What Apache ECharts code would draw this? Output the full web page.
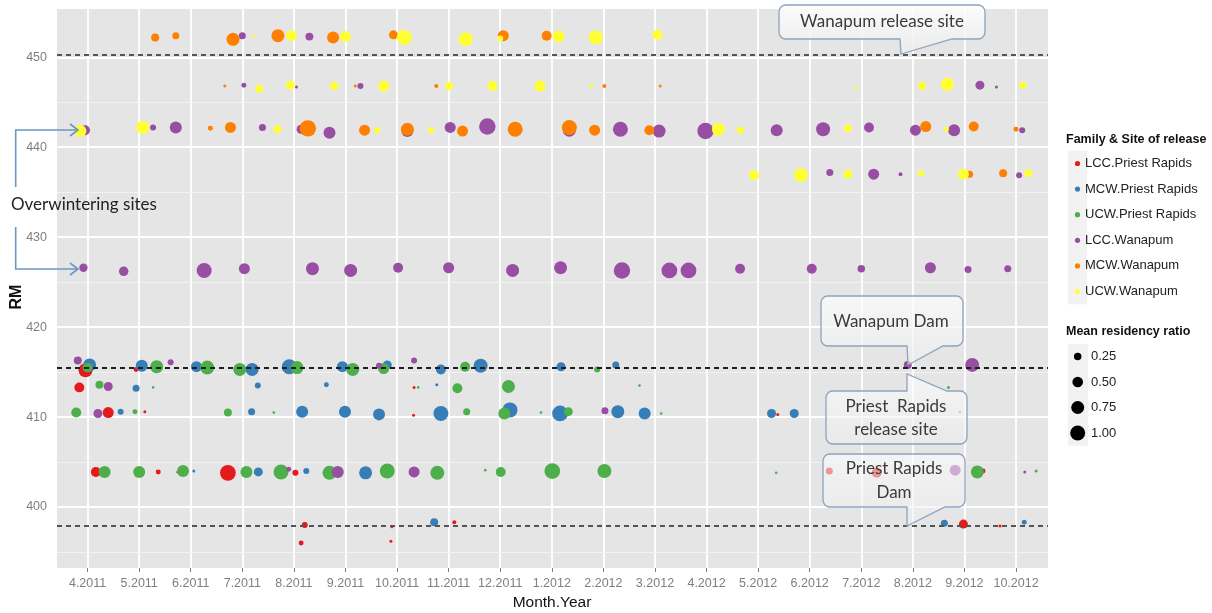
<!DOCTYPE html>
<html>
<head>
<meta charset="utf-8">
<script src="https://cdn.jsdelivr.net/npm/echarts@6/dist/echarts.min.js"></script>
<style>
  html, body { margin: 0; padding: 0; background: #fff; }
  #chart { width: 1212px; height: 613px; }
</style>
</head>
<body>
<div id="chart"></div>
<script>
// Month ticks: value 0 = April 2011, one unit per month
const monthLabels = ['4.2011','5.2011','6.2011','7.2011','8.2011','9.2011','10.2011','11.2011','12.2011',
  '1.2012','2.2012','3.2012','4.2012','5.2012','6.2012','7.2012','8.2012','9.2012','10.2012'];
const rmTicks = [400, 410, 420, 430, 440, 450];
const rmMinor = [395, 405, 415, 425, 435, 445];
// River miles of the release sites and dam
const siteLines = [450.3, 415.5, 397.9];
const sizeLegend = [0.25, 0.50, 0.75, 1.00];

// Each detection: [month, river mile, mean residency ratio]
const lccPriest = [
  [-0.04,415.2,0.87],[0.94,415.3,0.11],
  [-0.16,413.3,0.44],[6.33,413.3,0.04],
  [0.40,410.5,0.54],[1.11,410.6,0.04],[6.32,410.2,0.04],[13.38,410.3,0.04],
  [0.16,403.9,0.44],[1.37,403.9,0.11],[1.75,403.9,0.04],[2.72,403.8,1.1],[4.03,403.8,0.16],
  [14.38,404.0,0.22],[15.30,403.8,0.44],[17.36,404.0,0.11],
  [4.21,398.0,0.16],[4.14,396.0,0.11],[5.90,397.8,0.04],[5.88,396.2,0.04],[7.11,398.3,0.07],
  [16.98,398.1,0.36],[17.69,397.9,0.04]
];
const mcwPriest = [
  [0.04,415.8,0.75],[1.05,415.7,0.64],[2.11,415.6,0.54],[3.19,415.3,0.75],[3.91,415.6,1.0],
  [4.94,415.6,0.54],[5.81,415.8,0.36],[6.85,415.3,0.44],[7.62,415.7,0.87],[9.18,415.6,0.36],[10.24,415.8,0.22],
  [0.94,413.2,0.22],[3.30,413.5,0.16],[4.63,413.6,0.11],[6.77,413.6,0.04],
  [0.64,410.6,0.16],[3.18,410.6,0.22],[4.16,410.6,0.64],[4.99,410.6,0.64],[5.65,410.3,0.64],
  [6.85,410.4,1.0],[8.19,410.8,1.0],[9.16,410.4,1.1],[10.28,410.6,0.75],[10.80,410.4,0.64],
  [13.26,410.4,0.36],[13.70,410.4,0.36],
  [2.06,404.0,0.04],[3.31,403.9,0.36],[4.24,404.0,0.16],[5.39,403.8,0.75],
  [6.72,398.3,0.28],[16.61,398.2,0.22],[18.16,398.3,0.11]
];
const ucwPriest = [
  [0.00,415.5,0.44],[1.34,415.6,0.75],[2.32,415.5,0.87],[2.95,415.3,0.75],[4.06,415.5,0.75],
  [5.14,415.3,0.75],[5.74,415.4,0.54],[7.32,415.6,0.44],[9.88,415.3,0.16],
  [0.23,413.6,0.28],[1.27,413.3,0.03],[6.41,413.3,0.03],[7.17,413.2,0.44],[8.16,413.4,0.75],
  [10.70,413.5,0.03],[16.69,413.3,0.04],
  [-0.22,410.5,0.44],[0.92,410.6,0.11],[2.72,410.5,0.28],[3.61,410.5,0.03],[7.35,410.6,0.22],
  [8.08,410.4,0.64],[8.79,410.5,0.03],[9.32,410.6,0.36],[11.12,410.4,0.03],[16.91,410.6,0.03],
  [0.33,403.9,0.64],[1.00,403.9,0.64],[1.85,404.0,0.64],[3.08,403.9,0.64],[3.75,403.9,1.0],
  [4.69,403.8,0.87],[5.81,404.0,1.0],[6.78,403.8,0.87],[7.71,404.1,0.03],[8.01,403.9,0.44],
  [9.01,404.0,1.1],[10.02,404.0,0.87],[13.35,403.8,0.03],[17.25,403.9,0.75],[18.39,404.0,0.04],
  [9.94,397.9,0.03]
];
const lccWanapum = [
  [3.00,452.4,0.22],[4.30,452.3,0.28],
  [3.03,446.9,0.11],[4.05,446.7,0.04],[5.29,446.8,0.16],[17.30,446.9,0.36],[17.62,446.7,0.04],
  [-0.05,441.9,0.44],[1.27,442.2,0.16],[1.71,442.2,0.64],[3.39,442.2,0.22],[4.14,442.0,0.36],
  [4.69,441.6,0.64],[6.20,441.8,0.64],[7.03,442.2,0.54],[7.75,442.3,1.2],[9.34,441.9,0.75],
  [10.33,442.0,1.0],[11.08,441.8,0.75],[11.98,441.8,1.2],[13.36,441.9,0.64],[14.26,442.0,0.87],
  [15.15,442.2,0.44],[16.05,441.9,0.54],[16.80,441.9,0.64],[18.12,441.9,0.16],
  [14.39,437.2,0.22],[15.24,437.0,0.54],[15.76,437.0,0.07],[18.06,436.9,0.16],
  [-0.08,426.6,0.31],[0.70,426.2,0.40],[2.26,426.3,1.0],[3.04,426.5,0.54],[4.36,426.5,0.75],
  [5.10,426.3,0.75],[6.02,426.6,0.44],[7.00,426.6,0.54],[8.24,426.3,0.75],[9.17,426.6,0.75],
  [10.36,426.3,1.2],[11.28,426.3,1.1],[11.65,426.3,1.1],[12.65,426.5,0.44],[14.04,426.5,0.44],
  [15.00,426.5,0.25],[16.34,426.6,0.54],[17.07,426.4,0.22],[17.84,426.5,0.22],
  [-0.19,416.3,0.28],[1.61,416.1,0.16],[5.65,415.7,0.16],[6.33,416.3,0.16],[15.90,415.8,0.28],[17.15,415.8,0.87],
  [0.40,413.4,0.36],
  [0.20,410.4,0.36],[10.03,410.7,0.22],
  [3.90,404.2,0.11],[4.85,403.9,0.64],[6.33,403.9,0.54],[16.82,404.1,0.54],[18.17,403.9,0.04]
];
const mcwWanapum = [
  [1.31,452.2,0.29],[1.71,452.4,0.22],[2.82,452.0,0.75],[3.69,452.4,0.75],[4.76,452.2,0.64],
  [5.93,452.5,0.36],[8.06,452.4,0.54],[8.90,452.4,0.44],
  [2.66,446.8,0.04],[5.19,446.8,0.04],[6.76,446.8,0.07],[10.02,446.8,0.07],[11.10,446.8,0.04],
  [2.38,442.1,0.11],[2.77,442.2,0.54],[4.27,442.1,1.2],[5.37,441.9,0.54],[6.20,442.0,0.75],
  [7.27,441.8,0.54],[8.29,442.0,1.0],[9.34,442.2,1.0],[9.83,441.9,0.54],[10.89,441.9,0.44],
  [16.25,442.3,0.54],[17.18,442.3,0.44],[18.00,442.0,0.11],
  [17.10,437.0,0.22],[17.75,437.1,0.28]
];
const ucwWanapum = [
  [3.22,452.4,0.04],[3.95,452.4,0.54],[5.00,452.3,0.54],[6.14,452.2,1.0],[7.33,452.0,0.87],
  [8.00,452.1,0.16],[9.13,452.3,0.64],[9.85,452.2,0.87],[11.05,452.5,0.44],
  [3.33,446.5,0.28],[3.93,446.9,0.36],[4.78,446.8,0.28],[5.74,446.8,0.54],[7.01,446.8,0.28],
  [7.85,446.8,0.44],[8.77,446.8,0.54],[9.77,446.8,0.07],[14.91,446.6,0.04],[16.18,446.8,0.28],
  [16.67,447.0,0.75],[18.13,446.9,0.22],
  [-0.14,441.8,0.64],[1.07,442.2,0.75],[3.68,442.0,0.28],[5.61,441.9,0.16],[6.66,441.9,0.16],
  [12.23,442.0,0.75],[12.66,441.9,0.22],[14.74,442.1,0.28],[16.65,442.0,0.11],
  [12.92,436.9,0.44],[13.83,436.9,0.87],[14.74,437.0,0.36],[16.16,437.1,0.16],[16.98,437.0,0.54],[18.24,437.1,0.28]
];

const families = [
  { name: 'LCC.Priest Rapids', color: '#E41A1C', data: lccPriest },
  { name: 'MCW.Priest Rapids', color: '#377EB8', data: mcwPriest },
  { name: 'UCW.Priest Rapids', color: '#4DAF4A', data: ucwPriest },
  { name: 'LCC.Wanapum',       color: '#984EA3', data: lccWanapum },
  { name: 'MCW.Wanapum',       color: '#FF7F00', data: mcwWanapum },
  { name: 'UCW.Wanapum',       color: '#FFFF33', data: ucwWanapum }
];

const DIAM_AT_ONE = 15;           // symbol diameter for a ratio of 1.00 (area scale)
const diam = r => DIAM_AT_ONE * Math.sqrt(r);

const chart = echarts.init(document.getElementById('chart'), null, { renderer: 'canvas' });

// Panel grid lines (white) drawn under the points
const gridLines = [];
for (let i = 0; i < monthLabels.length; i++) {
  gridLines.push({ xAxis: i, lineStyle: { color: '#ffffff', width: 1.8, type: 'solid' } });
}
rmTicks.forEach(v => gridLines.push({ yAxis: v, lineStyle: { color: '#ffffff', width: 1.8, type: 'solid' } }));
rmMinor.forEach(v => gridLines.push({ yAxis: v, lineStyle: { color: '#f3f3f3', width: 0.9, type: 'solid' } }));

const siteColors = ['#555555', '#1e1e1e', '#555555'];
const siteMarks = siteLines.map((v, i) => ({
  yAxis: v, lineStyle: { color: siteColors[i], width: 2, type: [5, 4] }
}));

const series = [
  {
    type: 'scatter', data: [], silent: true,
    markLine: { silent: true, z: 1, symbol: ['none', 'none'], animation: false,
      label: { show: false }, emphasis: { disabled: true }, data: gridLines }
  }
];
families.forEach(f => {
  series.push({
    type: 'scatter', name: f.name, data: f.data, z: 3,
    symbol: 'circle',
    symbolSize: d => diam(d[2]),
    itemStyle: { color: f.color, opacity: 1, borderWidth: 0 },
    emphasis: { disabled: true },
    animation: false
  });
});
series.push({
  type: 'scatter', data: [], silent: true,
  markLine: { silent: true, z: 6, symbol: ['none', 'none'], animation: false,
    label: { show: false }, emphasis: { disabled: true }, data: siteMarks }
});

// ---- annotation callouts ----
function arcPts(cx, cy, r, a0, a1) {
  const pts = [];
  const n = 6;
  for (let k = 0; k <= n; k++) {
    const a = (a0 + (a1 - a0) * k / n) * Math.PI / 180;
    pts.push([cx + r * Math.cos(a), cy + r * Math.sin(a)]);
  }
  return pts;
}
function calloutPoints(x, y, w, h, r, tail) {
  let pts = [];
  pts = pts.concat(arcPts(x + r, y + r, r, 180, 270));
  if (tail.side === 'top') pts.push([tail.a, y], [tail.tipX, tail.tipY], [tail.b, y]);
  pts = pts.concat(arcPts(x + w - r, y + r, r, 270, 360));
  pts = pts.concat(arcPts(x + w - r, y + h - r, r, 0, 90));
  if (tail.side === 'bottom') pts.push([tail.b, y + h], [tail.tipX, tail.tipY], [tail.a, y + h]);
  pts = pts.concat(arcPts(x + r, y + h - r, r, 90, 180));
  return pts;
}
function boxFill(alpha) {
  return {
    type: 'linear', x: 0, y: 0, x2: 0, y2: 1,
    colorStops: [{ offset: 0, color: 'rgba(255,255,255,' + alpha + ')' },
                 { offset: 1, color: 'rgba(236,236,236,' + alpha + ')' }]
  };
}
function callout(x, y, w, h, tail, alpha) {
  return {
    type: 'polygon', z: 100, silent: true,
    shape: { points: calloutPoints(x, y, w, h, 7, tail) },
    style: { fill: boxFill(alpha), stroke: '#8ea3be', lineWidth: 1.3 }
  };
}
function label(text, x, y, size, opts) {
  return {
    type: 'text', z: 101, silent: true,
    style: Object.assign({
      text: text, x: x, y: y,
      font: (opts && opts.weight ? opts.weight + ' ' : '') + size + 'px ' + ((opts && opts.family) || 'Lato, "Open Sans", sans-serif'),
      fill: (opts && opts.color) || '#3a3a3a',
      align: (opts && opts.align) || 'center', textAlign: (opts && opts.align) || 'center',
      verticalAlign: 'middle', textVerticalAlign: 'middle'
    }, (opts && opts.extra) || {})
  };
}

const graphics = [];
graphics.push(callout(779, 5, 206, 34, { side: 'bottom', a: 900, b: 952, tipX: 901, tipY: 54 }, 0.85));
graphics.push(label('Wanapum release site', 882, 22, 17));
graphics.push(callout(821, 296, 142, 50, { side: 'bottom', a: 907, b: 943, tipX: 908, tipY: 365 }, 0.7));
graphics.push(label('Wanapum Dam', 891, 322, 17));
graphics.push(callout(826, 391, 141, 53, { side: 'top', a: 907, b: 947, tipX: 907, tipY: 374 }, 0.62));
graphics.push(label('Priest  Rapids', 896, 407, 17));
graphics.push(label('release site', 896, 430, 17));
graphics.push(callout(823, 454, 142, 53, { side: 'bottom', a: 907, b: 945, tipX: 907, tipY: 526 }, 0.55));
graphics.push(label('Priest Rapids', 894, 469, 17));
graphics.push(label('Dam', 894, 493, 17));

// "Overwintering sites" with its two arrows
const arrowColor = '#6b97c2';
graphics.push(label('Overwintering sites', 11, 205, 17, { align: 'left', color: '#222' }));
[[187, 130], [227, 269]].forEach(([from, to]) => {
  graphics.push({ type: 'polyline', z: 100, silent: true,
    shape: { points: [[15.7, from], [15.7, to], [77, to]] },
    style: { stroke: arrowColor, lineWidth: 1.6, fill: null } });
  graphics.push({ type: 'polyline', z: 100, silent: true,
    shape: { points: [[70, to - 6], [78, to], [70, to + 6]] },
    style: { stroke: arrowColor, lineWidth: 1.6, fill: null } });
});

// Axis titles
graphics.push(label('Month.Year', 552, 603, 15.5, { family: '"Liberation Sans", Arial, sans-serif', color: '#111' }));
graphics.push({
  type: 'text', z: 101, silent: true, x: 17, y: 297, rotation: Math.PI / 2,
  style: { text: 'RM', x: 0, y: 0, font: 'bold 16px "Liberation Sans", Arial, sans-serif', fill: '#111',
    align: 'center', textAlign: 'center', verticalAlign: 'middle', textVerticalAlign: 'middle' }
});

// Legend: family & site of release
const legFont = '"Liberation Sans Narrow", "Arial Narrow", "Liberation Sans", sans-serif';
graphics.push(label('Family & Site of release', 1066, 140, 12.5, { align: 'left', weight: 'bold', family: '"Liberation Sans", Arial, sans-serif', color: '#111' }));
families.forEach((f, i) => {
  const cy = 163.5 + i * 25.6;
  graphics.push({ type: 'rect', z: 99, silent: true, shape: { x: 1068, y: cy - 12.8, width: 19, height: 25.6 }, style: { fill: '#f2f2f2' } });
  graphics.push({ type: 'circle', z: 100, silent: true, shape: { cx: 1077.5, cy: cy, r: 2.6 }, style: { fill: f.color } });
  graphics.push(label(f.name, 1085, cy, 13, { align: 'left', family: legFont, color: '#222' }));
});

// Legend: mean residency ratio
graphics.push(label('Mean residency ratio', 1066, 332, 12.5, { align: 'left', weight: 'bold', family: '"Liberation Sans", Arial, sans-serif', color: '#111' }));
sizeLegend.forEach((v, i) => {
  const cy = 356.5 + i * 25.5;
  graphics.push({ type: 'rect', z: 99, silent: true, shape: { x: 1068, y: cy - 12.75, width: 20, height: 25.5 }, style: { fill: '#f2f2f2' } });
  graphics.push({ type: 'circle', z: 100, silent: true, shape: { cx: 1077.7, cy: cy, r: diam(v) / 2 }, style: { fill: '#000' } });
  graphics.push(label(v.toFixed(2), 1091, cy, 13, { align: 'left', family: legFont, color: '#222' }));
});

const monthTicks = monthLabels.map((_, i) => i);

chart.setOption({
  animation: false,
  backgroundColor: '#ffffff',
  grid: { left: 57, right: 164, top: 9, bottom: 45, show: true, backgroundColor: '#e5e5e5', borderWidth: 0, containLabel: false },
  xAxis: {
    type: 'value', min: -0.593, max: 18.62,
    axisLine: { show: false },
    axisTick: { show: true, customValues: monthTicks, length: 4, lineStyle: { color: '#7f7f7f', width: 1 } },
    axisLabel: { customValues: monthTicks, formatter: v => monthLabels[Math.round(v)], color: '#7f7f7f',
      fontSize: 12.5, margin: 9, fontFamily: '"Liberation Sans", Arial, sans-serif' },
    splitLine: { show: false }
  },
  yAxis: {
    type: 'value', min: 393.22, max: 455.37,
    axisLine: { show: false },
    axisTick: { show: true, customValues: rmTicks, length: 4, lineStyle: { color: '#7f7f7f', width: 1 } },
    axisLabel: { customValues: rmTicks, color: '#7f7f7f', fontSize: 12.5, margin: 10,
      fontFamily: '"Liberation Sans", Arial, sans-serif' },
    splitLine: { show: false }
  },
  series: series,
  graphic: { elements: graphics }
});
</script>
</body>
</html>
